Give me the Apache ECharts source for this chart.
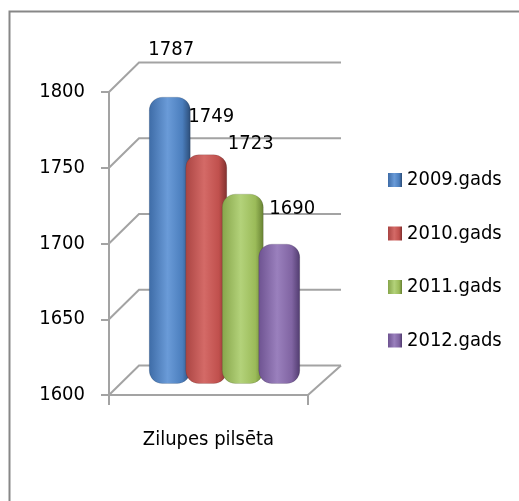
<!DOCTYPE html>
<html>
<head>
<meta charset="utf-8">
<script src="https://cdn.jsdelivr.net/npm/echarts@6/dist/echarts.min.js"></script>
<style>
html, body { margin: 0; padding: 0; background: #fff; }
#chart { width: 519px; height: 501px; }
</style>
</head>
<body>
<div id="chart"></div>
<script>
// data
var categories = ['Zilupes pilsēta'];
var seriesNames = ['2009.gads', '2010.gads', '2011.gads', '2012.gads'];
var values2009 = [1787];
var values2010 = [1749];
var values2011 = [1723];
var values2012 = [1690];
var yTicks = [1600, 1650, 1700, 1750, 1800];

var allValues = [values2009, values2010, values2011, values2012];

// look
var FONT = '"DejaVu Sans Condensed", "DejaVu Sans", sans-serif';
var FSIZE = 20;
var lineColor = '#a3a3a3';
var depthX = 30, depthY = -29.5;   // 3d wall offset
var barW = 41, barStep = 36.5;
var barColors = [
    ['#3d6ba6', '#6a9bd8', '#4b7ebd', '#2b4b75'],
    ['#a94442', '#d46a67', '#c0504d', '#7f2f2d'],
    ['#86a54a', '#b3d27a', '#9bbb59', '#657f31'],
    ['#6d5290', '#9a80bd', '#8064a2', '#4f3a6d']
];
// label position relative to bar top (dx, dy)
var labelShift = [[1.5, -47], [5, -38], [8, -50.5], [13, -35.5]];

function barFill(c) {
    return new echarts.graphic.LinearGradient(0, 0, 1, 0, [
        { offset: 0, color: c[0] },
        { offset: 0.45, color: c[1] },
        { offset: 0.8, color: c[2] },
        { offset: 1, color: c[3] }
    ]);
}

function barItem(idx) {
    return function (params, api) {
        var top = api.coord([api.value(0), api.value(1)]);
        var base = api.coord([api.value(0), yTicks[0]]);
        var x = top[0] - (barStep * 3 + barW) / 2 + idx * barStep;
        return {
            type: 'group',
            children: [{
                type: 'rect',
                shape: { x: x, y: top[1], width: barW, height: base[1] - top[1] + 3, r: 13 },
                style: { fill: barFill(barColors[idx]), stroke: 'rgba(0,0,0,0.12)', lineWidth: 1 }
            }, {
                type: 'text',
                x: x + barW / 2 + labelShift[idx][0],
                y: top[1] + labelShift[idx][1],
                style: {
                    text: String(api.value(1)),
                    fill: '#000',
                    font: FSIZE + 'px ' + FONT,
                    align: 'center',
                    verticalAlign: 'middle'
                }
            }]
        };
    };
}

function wallItem(params, api) {
    var v = api.value(1);
    var y = api.coord([api.value(0), v])[1];
    var x0 = params.coordSys.x, x1 = x0 + params.coordSys.width;
    var st = { stroke: lineColor, lineWidth: 2, fill: null };
    var children = [{
        type: 'polyline',
        shape: { points: [[x0, y], [x0 + depthX, y + depthY], [x1 + depthX + 3, y + depthY]] },
        style: st
    }];
    if (v === yTicks[0]) {
        children.push({
            type: 'line',
            shape: { x1: x1, y1: y, x2: x1 + depthX + 3, y2: y + depthY },
            style: st
        });
    }
    return { type: 'group', children: children };
}

var series = [{
    type: 'custom',
    xAxisIndex: 0,
    yAxisIndex: 0,
    renderItem: wallItem,
    encode: { x: 0, y: 1 },
    silent: true,
    z: 1,
    data: yTicks.map(function (v) { return [categories[0], v]; })
}];

seriesNames.forEach(function (name, i) {
    series.push({
        name: name,
        type: 'custom',
        xAxisIndex: 1,
        yAxisIndex: 1,
        renderItem: barItem(i),
        encode: { x: 0, y: 1 },
        itemStyle: { color: barFill(barColors[i]) },
        z: 3,
        data: allValues[i].map(function (v, k) { return [categories[k], v]; })
    });
});

var option = {
    backgroundColor: '#fff',
    animation: false,
    graphic: [{
        type: 'rect',
        shape: { x: 9.5, y: 11.5, width: 700, height: 700 },
        style: { fill: null, stroke: '#878787', lineWidth: 2 },
        silent: true
    }],
    legend: {
        orient: 'vertical',
        left: 383,
        top: 165,
        icon: 'rect',
        itemWidth: 14,
        itemHeight: 14,
        itemGap: 33.5,
        data: seriesNames,
        textStyle: { fontFamily: FONT, fontSize: FSIZE, color: '#000', lineHeight: 20 }
    },
    grid: [
        { left: 109, top: 92, width: 199, height: 303 },
        { left: 124.5, top: 77.5, width: 200, height: 303 }
    ],
    xAxis: [{
        type: 'category',
        gridIndex: 0,
        data: categories,
        axisLine: { lineStyle: { color: lineColor, width: 2 } },
        axisTick: { show: true, length: 10, lineStyle: { color: lineColor, width: 2 } },
        axisLabel: { margin: 35, fontFamily: FONT, fontSize: FSIZE, color: '#000' }
    }, {
        type: 'category',
        gridIndex: 1,
        data: categories,
        show: false
    }],
    yAxis: [{
        type: 'value',
        gridIndex: 0,
        min: 1600,
        max: 1800,
        interval: 50,
        axisLine: { show: true, lineStyle: { color: lineColor, width: 2 } },
        axisTick: { show: true, length: 8, lineStyle: { color: lineColor, width: 2 } },
        splitLine: { show: false },
        axisLabel: {
            margin: 24, fontFamily: FONT, fontSize: FSIZE, color: '#000',
            padding: [4, 0, 0, 0],
            formatter: function (v) { return String(v); }
        }
    }, {
        type: 'value',
        gridIndex: 1,
        min: 1600,
        max: 1800,
        show: false,
        splitLine: { show: false }
    }],
    series: series
};

var chart = echarts.init(document.getElementById('chart'));
chart.setOption(option);
</script>
</body>
</html>
